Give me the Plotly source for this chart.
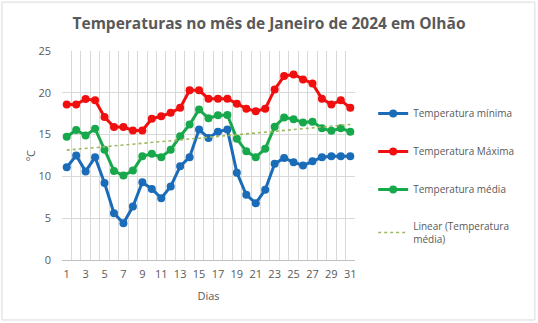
import numpy as np
import plotly.graph_objects as go

days = list(range(1, 32))
t_min = [11.1, 12.5, 10.6, 12.3, 9.2, 5.6, 4.4, 6.4, 9.3, 8.5, 7.4, 8.8, 11.2, 12.3, 15.6,
         14.6, 15.35, 15.6, 10.45, 7.8, 6.8, 8.4, 11.5, 12.2, 11.7, 11.3, 11.8, 12.3, 12.4, 12.4, 12.4]
t_max = [18.6, 18.6, 19.25, 19.1, 17.1, 15.9, 15.9, 15.5, 15.5, 16.9, 17.2, 17.6, 18.2, 20.3, 20.3,
         19.3, 19.3, 19.3, 18.7, 18.1, 17.8, 18.1, 20.4, 22.0, 22.2, 21.6, 21.1, 19.3, 18.6, 19.1, 18.2]
t_med = [14.75, 15.55, 14.9, 15.7, 13.2, 10.65, 10.1, 10.7, 12.4, 12.7, 12.3, 13.2, 14.8, 16.2, 18.0,
         16.95, 17.3, 17.35, 14.5, 13.0, 12.3, 13.3, 15.95, 17.05, 16.85, 16.45, 16.55, 15.75, 15.45, 15.75, 15.35]
x_ticks = list(range(1, 32, 2))
y_ticks = [0, 5, 10, 15, 20, 25]

slope, intercept = np.polyfit(days, t_med, 1)
trend = [slope * d + intercept for d in days]

grey = "#595959"
font = "Open Sans"

fig = go.Figure()
series = [
    ("Temperatura mínima", t_min, "#1A6BB8"),
    ("Temperatura Máxima", t_max, "#F00E0E"),
    ("Temperatura média", t_med, "#17A84B"),
]
for i, (name, vals, col) in enumerate(series):
    fig.add_trace(go.Scatter(
        x=days, y=vals, name=name, mode="lines+markers",
        line=dict(color=col, width=3), marker=dict(color=col, size=8),
        legendgroup=f"g{i}", legendrank=i + 1))
fig.add_trace(go.Scatter(
    x=days, y=trend, name="Linear (Temperatura<br>média)", mode="lines",
    line=dict(color="#9DB85F", width=1.6, dash="dot"),
    legendgroup="g3", legendrank=4))

fig.update_layout(
    width=538, height=323,
    margin=dict(l=62, r=183, t=51, b=63),
    paper_bgcolor="white", plot_bgcolor="white",
    font=dict(family=font, color=grey, size=10),
    title=dict(text="<b>Temperaturas no mês de Janeiro de 2024 em Olhão</b>",
               x=0.5, xanchor="center", y=0.928, yanchor="middle",
               font=dict(size=15.5, color=grey, family=font)),
    legend=dict(x=1.062, xanchor="left", y=0.77, yanchor="top",
                font=dict(size=10, color=grey, family=font),
                tracegroupgap=19, traceorder="grouped", itemwidth=30,
                bgcolor="rgba(0,0,0,0)"),
    xaxis=dict(range=[0.5, 31.5], tickvals=x_ticks, ticktext=[str(v) for v in x_ticks],
               showgrid=False, zeroline=False, showline=False, ticks="",
               ticklabelstandoff=6,
               tickfont=dict(size=11, color=grey),
               minor=dict(tickvals=[d + 0.5 for d in range(0, 32)], showgrid=True,
                          gridcolor="#D9D9D9", gridwidth=1),
               title=dict(text="Dias", font=dict(size=11, color=grey), standoff=12)),
    yaxis=dict(range=[0, 25], tickvals=y_ticks, showgrid=True, gridcolor="#D9D9D9",
               zeroline=True, zerolinecolor="#BFBFBF", zerolinewidth=1,
               showline=False, ticks="", tickfont=dict(size=11, color=grey),
               ticklabelstandoff=10,
               title=dict(text="ºC", font=dict(size=11, color=grey), standoff=0)),
    shapes=[dict(type="rect", xref="paper", yref="paper", x0=-0.205, x1=1.614, y0=-0.287, y1=1.234,
                 line=dict(color="#D9D9D9", width=1), fillcolor="rgba(0,0,0,0)", layer="below")],
)

fig.write_html("out.html")
